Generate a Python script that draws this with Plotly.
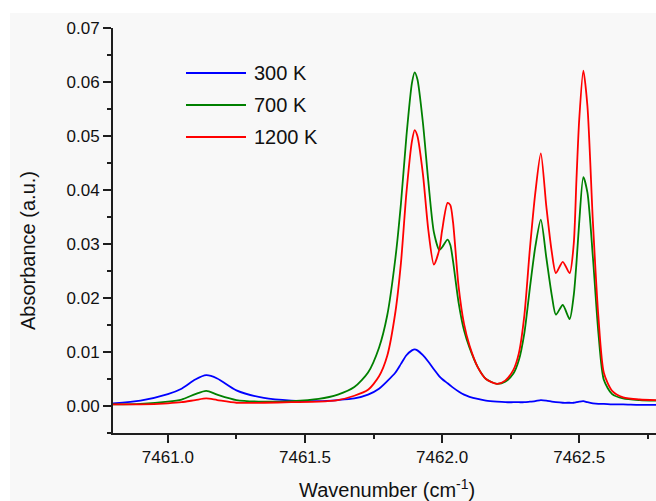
import plotly.graph_objects as go

# ---------------- data ----------------
wavenumber = [7460.80, 7460.90, 7461.00, 7461.05, 7461.10, 7461.14, 7461.18, 7461.25, 7461.35, 7461.45,
              7461.55, 7461.62, 7461.68, 7461.73, 7461.77, 7461.80, 7461.83, 7461.85, 7461.87, 7461.89,
              7461.90, 7461.91, 7461.93, 7461.95, 7461.97, 7461.99, 7462.00, 7462.02, 7462.03, 7462.04,
              7462.06, 7462.08, 7462.10, 7462.13, 7462.16, 7462.20, 7462.23, 7462.26, 7462.28, 7462.30,
              7462.32, 7462.34, 7462.36, 7462.38, 7462.40, 7462.415, 7462.44, 7462.465, 7462.48, 7462.49,
              7462.50, 7462.515, 7462.53, 7462.55, 7462.57, 7462.59, 7462.62, 7462.66, 7462.72, 7462.78]

abs_300K = [0.0005, 0.0010, 0.0022, 0.0032, 0.0049, 0.0057, 0.0051, 0.0029, 0.0015, 0.0010,
            0.0009, 0.0011, 0.0014, 0.0021, 0.0032, 0.0046, 0.0062, 0.0078, 0.0094, 0.0103,
            0.0105, 0.0103, 0.0094, 0.0082, 0.0068, 0.0055, 0.0050, 0.0042, 0.0038, 0.0034,
            0.0027, 0.0021, 0.0017, 0.0013, 0.0010, 0.0008, 0.0007, 0.0007, 0.0007, 0.0007,
            0.0008, 0.0009, 0.0011, 0.0010, 0.0008, 0.0007, 0.0006, 0.0006, 0.0006, 0.0007,
            0.0008, 0.0009, 0.0007, 0.0005, 0.0004, 0.0004, 0.0003, 0.0003, 0.0002, 0.0002]

abs_700K = [0.0003, 0.0004, 0.0008, 0.0012, 0.0022, 0.0028, 0.0021, 0.0011, 0.0008, 0.0009,
            0.0013, 0.0021, 0.0035, 0.0062, 0.0108, 0.0168, 0.0275, 0.0375, 0.0500, 0.0598,
            0.0618, 0.0605, 0.0525, 0.0415, 0.0322, 0.0289, 0.0294, 0.0308, 0.0298, 0.0268,
            0.0192, 0.0140, 0.0108, 0.0072, 0.0050, 0.0041, 0.0045, 0.0060, 0.0085, 0.0135,
            0.0218, 0.0295, 0.0345, 0.0275, 0.0205, 0.0169, 0.0187, 0.0161, 0.0205, 0.0265,
            0.0340, 0.0424, 0.0395, 0.0275, 0.0135, 0.0048, 0.0022, 0.0014, 0.0011, 0.0010]

abs_1200K = [0.0003, 0.0003, 0.0005, 0.0007, 0.0011, 0.0014, 0.0011, 0.0006, 0.0006, 0.0007,
             0.0008, 0.0011, 0.0019, 0.0030, 0.0055, 0.0093, 0.0175, 0.0265, 0.0395, 0.0490,
             0.0511, 0.0500, 0.0430, 0.0325, 0.0262, 0.0290, 0.0325, 0.0376, 0.0372, 0.0340,
             0.0222, 0.0152, 0.0112, 0.0072, 0.0050, 0.0041, 0.0047, 0.0067, 0.0098, 0.0168,
             0.0290, 0.0395, 0.0468, 0.0370, 0.0285, 0.0246, 0.0267, 0.0246, 0.0300, 0.0420,
             0.0530, 0.0621, 0.0555, 0.0340, 0.0165, 0.0061, 0.0028, 0.0016, 0.0012, 0.0011]

series_names = ["300 K", "700 K", "1200 K"]
series_values = [abs_300K, abs_700K, abs_1200K]
series_colors = ["#0000ff", "#008000", "#ff0000"]

y_ticks = [0.00, 0.01, 0.02, 0.03, 0.04, 0.05, 0.06, 0.07]
x_ticks = [7461.0, 7461.5, 7462.0, 7462.5]

# ---------------- layout constants ----------------
W, H = 656, 501
ML, MR, MT, MB = 113, 0, 28, 68
PW, PH = W - ML - MR, H - MT - MB
BG = "#f8f8f8"
AXC = "#1e1e1e"
FONT = "Liberation Sans, Arial, sans-serif"


def px_to_paper(px, py):
    return (px - ML) / PW, (H - MB - py) / PH


fig = go.Figure()
for name, vals, col in zip(series_names, series_values, series_colors):
    fig.add_trace(go.Scatter(x=wavenumber, y=vals, mode="lines", name=name,
                             line=dict(color=col, width=1.8, shape="spline", smoothing=0.7),
                             showlegend=False))

shapes = []
annotations = []

# light-grey canvas with a thin white border at top/left (as in the screenshot)
x0, y1 = px_to_paper(10, 13)
x1, y0 = px_to_paper(W, H)
shapes.append(dict(type="rect", xref="paper", yref="paper", x0=x0, x1=x1, y0=y0, y1=y1,
                   fillcolor=BG, line=dict(width=0), layer="below"))

# custom legend (long line samples like the original)
leg_rows = [73, 105, 137]
for name, col, ry in zip(series_names, series_colors, leg_rows):
    lx0, ly = px_to_paper(186, ry)
    lx1, _ = px_to_paper(246, ry)
    shapes.append(dict(type="line", xref="paper", yref="paper", x0=lx0, x1=lx1, y0=ly, y1=ly,
                       line=dict(color=col, width=1.8)))
    tx, _ = px_to_paper(252, ry)
    annotations.append(dict(text=name, xref="paper", yref="paper", x=tx, y=ly, xanchor="left",
                            yanchor="middle", showarrow=False, font=dict(family=FONT, size=20, color="#111")))

# axis titles
tx, ty = px_to_paper(387, 488)
annotations.append(dict(text="Wavenumber (cm<sup>-1</sup>)", xref="paper", yref="paper", x=tx, y=ty,
                        xanchor="center", yanchor="middle", showarrow=False,
                        font=dict(family=FONT, size=20, color="#111")))
tx, ty = px_to_paper(28, 251)
annotations.append(dict(text="Absorbance (a.u.)", xref="paper", yref="paper", x=tx, y=ty,
                        xanchor="center", yanchor="middle", textangle=-90, showarrow=False,
                        font=dict(family=FONT, size=20, color="#111")))

fig.update_layout(
    width=W, height=H,
    margin=dict(l=ML, r=MR, t=MT, b=MB, pad=0),
    paper_bgcolor="white", plot_bgcolor=BG,
    shapes=shapes, annotations=annotations,
    font=dict(family=FONT, size=17, color="#111"),
    showlegend=False,
)
fig.update_xaxes(range=[7460.8, 7462.78], showgrid=False, zeroline=False,
                 showline=True, linecolor=AXC, linewidth=2, mirror=False,
                 ticks="outside", ticklen=8, tickwidth=1.5, tickcolor=AXC,
                 tickvals=x_ticks, ticktext=[f"{v:.1f}" for v in x_ticks],
                 minor=dict(ticks="outside", ticklen=4, tickwidth=1.5, tickcolor=AXC,
                            dtick=0.25, tick0=7461.0),
                 tickfont=dict(family=FONT, size=17, color="#111"))
fig.update_yaxes(range=[-0.005, 0.07], showgrid=False, zeroline=False,
                 showline=True, linecolor=AXC, linewidth=2, mirror=False,
                 ticks="outside", ticklen=8, tickwidth=1.5, tickcolor=AXC,
                 tickvals=y_ticks, ticktext=[f"{v:.2f}" for v in y_ticks],
                 minor=dict(ticks="outside", ticklen=4, tickwidth=1.5, tickcolor=AXC,
                            dtick=0.005, tick0=0.0),
                 tickfont=dict(family=FONT, size=17, color="#111"))

fig.write_html("out.html")
